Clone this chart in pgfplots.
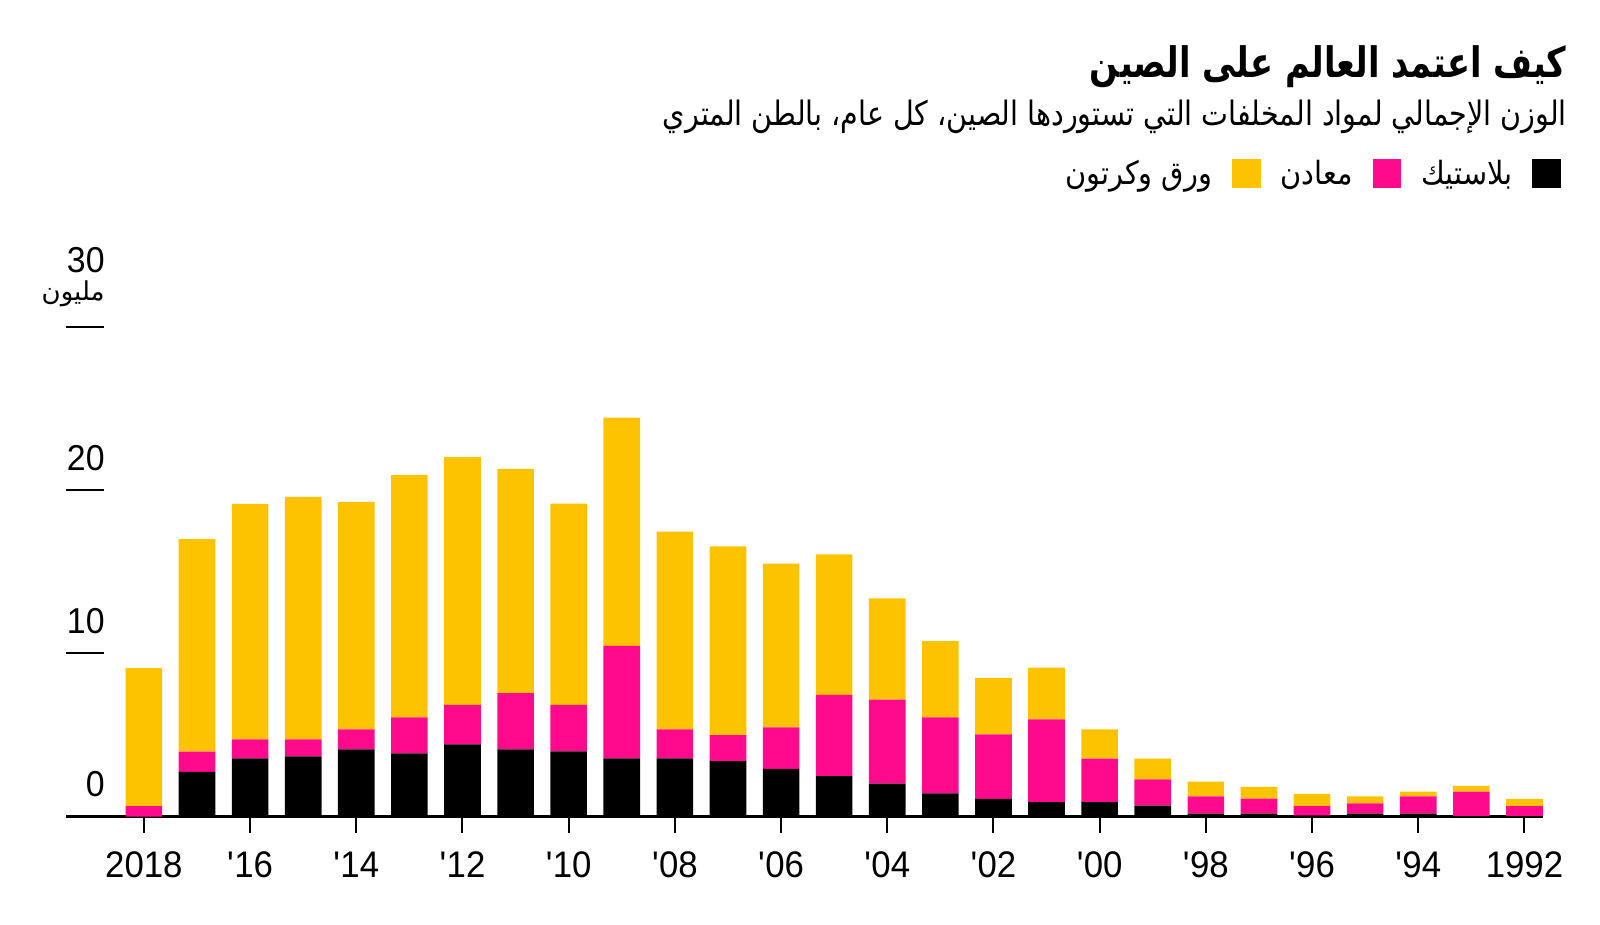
\documentclass[border=0pt]{standalone}
\usepackage{fontspec}
\usepackage{pgfplots}
\usepackage{pgfplotstable}
\pgfplotsset{compat=1.18}
\setmainfont[FakeStretch=0.94]{Liberation Sans}
\newfontfamily\arabicfont[Script=Arabic]{DejaVu Sans}
\newfontfamily\arabictitle[Script=Arabic, FakeStretch=0.8]{DejaVu Sans}
\newfontfamily\arabicsub[Script=Arabic, FakeStretch=0.85]{DejaVu Sans}
\newfontfamily\arabicleg[Script=Arabic, FakeStretch=0.9]{DejaVu Sans}
\TeXXeTstate=1
\definecolor{cyellow}{HTML}{FDC300}
\definecolor{cpink}{HTML}{FF0A8C}

\pgfplotstableread{
idx plastic metals paper
0  0.00 0.63 8.45
1  2.74 1.23 13.02
2  3.56 1.16 14.42
3  3.68 1.04 14.85
4  4.11 1.23 13.92
5  3.87 2.20 14.83
6  4.42 2.41 15.17
7  4.11 3.44 13.74
8  3.99 2.84 12.33
9  3.56 6.89 13.97
10 3.56 1.78 12.10
11 3.39 1.60 11.55
12 2.92 2.54 10.02
13 2.47 4.97 8.61
14 2.02 5.14 6.19
15 1.41 4.66 4.67
16 1.08 3.95 3.46
17 0.88 5.07 3.17
18 0.88 2.66 1.80
19 0.67 1.60 1.27
20 0.18 1.05 0.90
21 0.18 0.92 0.72
22 0.05 0.58 0.76
23 0.18 0.62 0.43
24 0.18 1.05 0.30
25 0.02 1.51 0.35
26 0.02 0.61 0.45
}\datatable

\begin{document}
\begin{tikzpicture}
\path[use as bounding box] (0,0) rectangle (800pt,-462.5pt);

\node[anchor=east, inner sep=0pt] at (783.5pt,-33.5pt)
  {\arabictitle\bfseries\fontsize{21pt}{25pt}\selectfont\beginR كيف اعتمد العالم على الصين\endR};
\node[anchor=east, inner sep=0pt] at (783.5pt,-58.5pt)
  {\arabicsub\fontsize{16.8pt}{20pt}\selectfont\beginR الوزن الإجمالي لمواد المخلفات التي تستوردها الصين، كل عام، بالطن المتري\endR};

\begin{axis}[
  at={(33pt,-408.25pt)}, anchor=south west,
  width=738.5pt, height=245pt, scale only axis,
  xmin=-1.467, xmax=26.35, ymin=0, ymax=30,
  ybar stacked, bar width=0.69,
  clip=false,
  axis x line*=bottom, axis y line*=left,
  axis line style={-},
  x axis line style={line width=1.2pt, black},
  y axis line style={draw=none},
  tick align=outside, major tick length=8pt,
  xtick={0,2,...,26},
  xticklabels={2018,\textquotesingle16,\textquotesingle14,\textquotesingle12,\textquotesingle10,\textquotesingle08,\textquotesingle06,\textquotesingle04,\textquotesingle02,\textquotesingle00,\textquotesingle98,\textquotesingle96,\textquotesingle94,1992},
  xtick style={line width=1pt, black},
  xticklabel style={anchor=north, inner sep=0pt, yshift=-9.5pt, font=\fontsize{18.5pt}{20pt}\selectfont},
  ytick={0,10,20,30},
  yticklabels={0,10,20,{30\\{\arabicfont\fontsize{13pt}{13pt}\selectfont\beginR مليون\endR}}},
  ytick style={draw=none},
  yticklabel style={anchor=south east, inner sep=0pt, align=right, xshift=27.5pt, yshift=9.5pt, font=\fontsize{18pt}{14pt}\selectfont},
  legend columns=3,
  reverse legend,
  legend plot pos=right,
  legend image code/.code={\fill[#1] (0pt,-7.15pt) rectangle (14.3pt,7.15pt);},
  legend style={at={(axis description cs:1.0165,1.312)}, anchor=east, draw=none, fill=none,
    font=\arabicleg\fontsize{16pt}{18pt}\selectfont,
    /tikz/column sep=10pt, nodes={inner sep=0pt}},
]
\addplot[fill=black, draw=none] table[x=idx, y=plastic] {\datatable};
\addlegendentry{\beginR بلاستيك\endR}
\addplot[fill=cpink, draw=none] table[x=idx, y=metals] {\datatable};
\addlegendentry{\beginR معادن\endR}
\addplot[fill=cyellow, draw=none] table[x=idx, y=paper] {\datatable};
\addlegendentry{\beginR ورق وكرتون\endR}
\pgfplotsinvokeforeach{10,20,30}{
  \draw[line width=1pt, black] (axis cs:-1.467,#1) -- ++(19pt,0pt);
}
\end{axis}
\end{tikzpicture}
\end{document}
